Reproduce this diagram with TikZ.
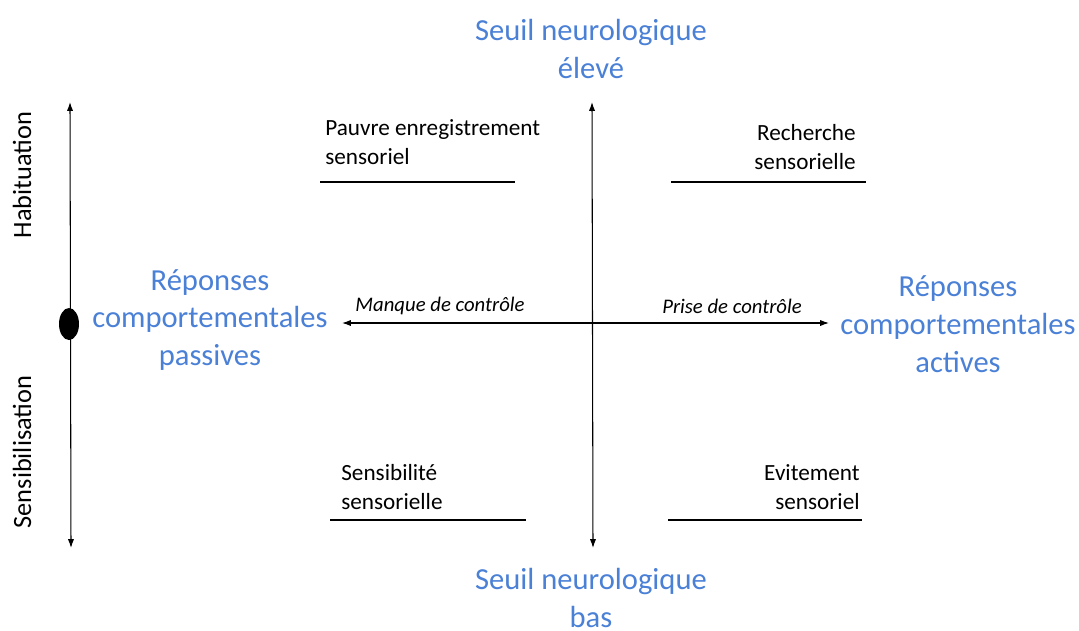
\documentclass[tikz,border=0pt]{standalone}
\usepackage{fontspec}
\setmainfont{Carlito}
\usetikzlibrary{arrows.meta,positioning,shapes.geometric}
\definecolor{seuilblue}{RGB}{74,128,214}
\tikzset{
    bluelabel/.style={text=seuilblue, font=\fontsize{17.4}{21.5}\selectfont, align=center},
    quadlabel/.style={font=\fontsize{13.2}{16.5}\selectfont, inner sep=0pt},
    ctrllabel/.style={font=\itshape\fontsize{11.8}{14}\selectfont},
    sidelabel/.style={rotate=90, font=\fontsize{15}{18}\selectfont},
    axis/.style={{Latex[length=5pt,width=3.5pt]}-{Latex[length=5pt,width=3.5pt]}, line width=0.6pt},
    quadline/.style={line width=0.6pt}
}
\begin{document}
\begin{tikzpicture}[x=0.02cm,y=-0.02cm]
    \useasboundingbox (0,0) rectangle (1079,630);

    % left axis
    \coordinate (habtop) at (70,102);
    \coordinate (habbot) at (71,548);
    \draw[axis] (habtop) -- (habbot);
    \node[ellipse, fill=black, minimum width=0.4cm, minimum height=0.64cm, inner sep=0pt] (dot) at (69,324) {};
    \node[sidelabel] (habit) at (22,175) {Habituation};
    \node[sidelabel] (sensib) at (22,452) {Sensibilisation};

    % central axes
    \coordinate (seuiltop) at (592,102);
    \coordinate (seuilbot) at (593,548);
    \draw[axis] (seuiltop) -- (seuilbot);
    \coordinate (ctrlleft) at (342,323);
    \coordinate (ctrlright) at (829,323);
    \draw[axis] (ctrlleft) -- (ctrlright);
    \node[ctrllabel] (manque) at (440,306) {Manque de contrôle};
    \node[ctrllabel] (prise) at (732,306) {Prise de contrôle};

    % blue labels
    \node[bluelabel] (haut) at (591,49) {Seuil neurologique\\élevé};
    \node[bluelabel, inner sep=0pt] (bas) at (591,598) {Seuil neurologique\\bas};
    \node[bluelabel] (passives) at (210,320) {Réponses\\comportementales\\passives};
    \node[bluelabel, inner sep=1pt] (actives) at (958,324) {Réponses\\comportementales\\actives};

    % quadrants
    \node[quadlabel, anchor=base west, align=left] (pauvre) at (325,164) {Pauvre enregistrement\\sensoriel};
    \coordinate (pauvreA) at (320,182);
    \coordinate (pauvreB) at (515,182);
    \draw[quadline] (pauvreA) -- (pauvreB);

    \node[quadlabel, anchor=base east, align=right] (recherche) at (856,169) {Recherche\\sensorielle};
    \coordinate (rechercheA) at (671,182);
    \coordinate (rechercheB) at (866,182);
    \draw[quadline] (rechercheA) -- (rechercheB);

    \node[quadlabel, anchor=base west, align=left] (sensibilite) at (341,509) {Sensibilité\\sensorielle};
    \coordinate (sensibiliteA) at (330,520);
    \coordinate (sensibiliteB) at (526,520);
    \draw[quadline] (sensibiliteA) -- (sensibiliteB);

    \node[quadlabel, anchor=base east, align=right] (evitement) at (860,509) {Evitement\\sensoriel};
    \coordinate (evitementA) at (668,520);
    \coordinate (evitementB) at (862,520);
    \draw[quadline] (evitementA) -- (evitementB);
\end{tikzpicture}
\end{document}
